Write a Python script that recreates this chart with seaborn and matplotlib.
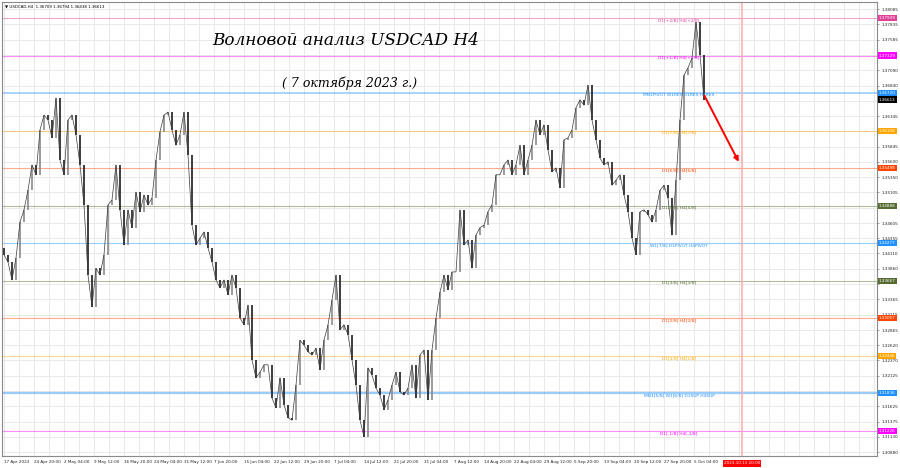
import matplotlib
matplotlib.use("Agg")
import matplotlib.pyplot as plt
from matplotlib.ticker import FixedLocator, MultipleLocator
from matplotlib.transforms import blended_transform_factory
import numpy as np
import pandas as pd
import seaborn as sns

# цены закрытия H4 (примерно каждая 4-я свеча)
closes = [
    1.3409, 1.3397, 1.3368, 1.3404, 1.3462, 1.3482, 1.3514, 1.3555, 1.3539, 1.3612,
    1.3636, 1.3628, 1.3599, 1.3664, 1.3563, 1.3539, 1.3628, 1.3636, 1.3604, 1.3555,
    1.3490, 1.3376, 1.3324, 1.3387, 1.3376, 1.3409, 1.3490, 1.3498, 1.3555, 1.3482,
    1.3425, 1.3482, 1.3453, 1.3511, 1.3479, 1.3506, 1.3490, 1.3501, 1.3563, 1.3609,
    1.3636, 1.3641, 1.3612, 1.3587, 1.3604, 1.3641, 1.3571, 1.3457, 1.3425, 1.3436,
    1.3446, 1.3420, 1.3397, 1.3368, 1.3355, 1.3368, 1.3344, 1.3376, 1.3355, 1.3306,
    1.3295, 1.3327, 1.3238, 1.3209, 1.3218, 1.3230, 1.3230, 1.3176, 1.3160, 1.3209,
    1.3165, 1.3144, 1.3140, 1.3197, 1.3270, 1.3262, 1.3251, 1.3246, 1.3257, 1.3222,
    1.3270, 1.3295, 1.3335, 1.3376, 1.3287, 1.3295, 1.3279, 1.3238, 1.3197, 1.3140,
    1.3113, 1.3225, 1.3213, 1.3192, 1.3181, 1.3157, 1.3173, 1.3197, 1.3218, 1.3186,
    1.3181, 1.3192, 1.3230, 1.3176, 1.3246, 1.3254, 1.3173, 1.3254, 1.3306, 1.3348,
    1.3376, 1.3352, 1.3381, 1.3381, 1.3482, 1.3425, 1.3433, 1.3387, 1.3441, 1.3453,
    1.3457, 1.3479, 1.3490, 1.3539, 1.3539, 1.3555, 1.3563, 1.3539, 1.3555, 1.3587,
    1.3539, 1.3563, 1.3587, 1.3628, 1.3604, 1.3620, 1.3579, 1.3544, 1.3550, 1.3518,
    1.3596, 1.3599, 1.3612, 1.3648, 1.3661, 1.3652, 1.3685, 1.3628, 1.3596, 1.3566,
    1.3555, 1.3560, 1.3522, 1.3530, 1.3539, 1.3506, 1.3479, 1.3436, 1.3409, 1.3479,
    1.3482, 1.3474, 1.3462, 1.3482, 1.3514, 1.3522, 1.3501, 1.3441, 1.3530, 1.3628,
    1.3701, 1.3713, 1.3729, 1.3787, 1.3734, 1.3661,
]
first_open = 1.3420

# уровни Мюррея / пивоты
level_prices = [1.37939, 1.37329, 1.36720, 1.36108, 1.35498, 1.34888,
                1.34277, 1.33667, 1.33057, 1.32446, 1.31836, 1.31226]
level_names = ["D1[+2/8] H4[+2/8]", "D1[+1/8] H4[+1/8]", "MN1PIVOT W1RES D1RES H4RES",
               "D1[7/8] H4[7/8]", "D1[6/8] H4[6/8]", "D1[5/8] H4[5/8]",
               "W1[7/8] D1PIVOT H4PIVOT", "D1[3/8] H4[3/8]", "D1[2/8] H4[2/8]",
               "D1[1/8] H4[1/8]", "MN1[5/8] W1[6/8] D1SUP H4SUP", "D1[-1/8] H4[-1/8]"]
level_colors = ["#e0409a", "#ff00ff", "#1e90ff", "#ffa500", "#ff4500", "#556b2f",
                "#1e90ff", "#556b2f", "#ff4500", "#ffa500", "#1e90ff", "#ff00ff"]
level_widths = [0.8, 0.8, 1.2, 0.8, 0.8, 0.8, 0.8, 0.8, 0.8, 0.8, 1.6, 0.8]

last_price = 1.36613
header = "USDCAD,H4  1.36709 1.36794 1.36438 1.36613"

y_ticks = [1.38085, 1.37835, 1.37585, 1.37335, 1.37090, 1.36840, 1.36595, 1.36345,
           1.36095, 1.35845, 1.35600, 1.35350, 1.35105, 1.34855, 1.34605, 1.34355,
           1.34110, 1.33860, 1.33615, 1.33365, 1.33115, 1.32865, 1.32620, 1.32370,
           1.32125, 1.31875, 1.31625, 1.31375, 1.31130, 1.30880]

time_labels = ["17 Apr 2023", "24 Apr 20:00", "2 May 04:00", "9 May 12:00", "16 May 20:00",
               "24 May 04:00", "31 May 12:00", "7 Jun 20:00", "15 Jun 04:00", "22 Jun 12:00",
               "29 Jun 20:00", "7 Jul 04:00", "14 Jul 12:00", "21 Jul 20:00", "31 Jul 04:00",
               "7 Aug 12:00", "14 Aug 20:00", "22 Aug 04:00", "29 Aug 12:00", "5 Sep 20:00",
               "13 Sep 04:00", "20 Sep 12:00", "27 Sep 20:00", "5 Oct 04:00"]
future_label = "2023.10.13 20:00"

sns.set_theme(style="white")
plt.rcParams['font.family'] = ['DejaVu Sans']

df = pd.DataFrame({"bar": np.arange(len(closes)), "close": closes})
df["open"] = [first_open] + closes[:-1]

fig = plt.figure(figsize=(9, 4.68), dpi=100)
ax = fig.add_axes([2 / 900, 12 / 468, 875 / 900, 454 / 468])

ax.set_xlim(-0.5, 218.25)
ax.set_ylim(1.30817, 1.38199)

# сетка
ax.yaxis.set_major_locator(FixedLocator(y_ticks))
tick_pos = np.arange(len(time_labels)) * 7.5
ax.xaxis.set_major_locator(FixedLocator(tick_pos))
ax.xaxis.set_minor_locator(MultipleLocator(3.75))
ax.grid(True, which="both", color="#e9e9e9", linewidth=0.7)
ax.set_axisbelow(True)

# уровни
trans = blended_transform_factory(ax.transAxes, ax.transData)
tag_prices = level_prices + [last_price]
for p, name, c, w in zip(level_prices, level_names, level_colors, level_widths):
    ax.axhline(p, color=c, linewidth=w, alpha=0.45, zorder=1)
    ax.text(168.75, p - 0.00035, name, color=c, fontsize=3.2, ha="center", va="center", zorder=4)
    ax.text(1.002, p, f"{p:.5f}", transform=trans, color="white", fontsize=3.0,
            ha="left", va="center", zorder=10, clip_on=False,
            bbox=dict(boxstyle="square,pad=0.25", fc=c, ec="none"))
ax.text(1.002, last_price, f"{last_price:.5f}", transform=trans, color="white", fontsize=3.0,
        ha="left", va="center", zorder=11, clip_on=False,
        bbox=dict(boxstyle="square,pad=0.25", fc="black", ec="none"))

# будущая дата
ax.axvline(184.5, color="#ffb0b0", linewidth=1.2, zorder=1)

# свечи
up = df["close"] >= df["open"]
lo = np.minimum(df["open"], df["close"])
hi = np.maximum(df["open"], df["close"])
ax.vlines(df["bar"][up], lo[up], hi[up], color="#8a8a8a", linewidth=1.2, zorder=3)
ax.vlines(df["bar"][~up], lo[~up], hi[~up], color="#1c1c1c", linewidth=1.2, zorder=3)
sns.lineplot(data=df, x="bar", y="close", ax=ax, color="#3a3a3a", linewidth=0.5, zorder=3)

# прогноз
ax.annotate("", xy=(184, 1.3556), xytext=(174.75, 1.3672),
            arrowprops=dict(arrowstyle="-|>", color="red", lw=1.4, mutation_scale=7), zorder=6)

# заголовок
ax.text(85.5, 1.3758, "Волновой анализ USDCAD H4", fontsize=12.2, style="italic",
        family="DejaVu Serif", ha="center", va="center", color="black")
ax.text(86.5, 1.3688, "( 7 октября 2023 г.)", fontsize=9, style="italic",
        family="DejaVu Serif", ha="center", va="center", color="black")

ax.text(0.003, 0.994, "▼ " + header, transform=ax.transAxes, fontsize=2.9,
        ha="left", va="top", color="black")

# оси
ax.yaxis.tick_right()
ylabels = [f"{t:.5f}" if min(abs(t - q) for q in tag_prices) > 0.00055 else "" for t in y_ticks]
ax.set_yticklabels(ylabels, fontsize=3.0, color="#222222")
ax.set_xticks(tick_pos)
ax.set_xticklabels(time_labels, fontsize=3.0, color="#222222", ha="left")
ax.tick_params(axis="both", length=1.5, width=0.5, pad=1.5, color="#777777")
ax.tick_params(axis="x", which="minor", length=0)
ax.text(184.5, -0.016, future_label, transform=blended_transform_factory(ax.transData, ax.transAxes),
        fontsize=3.0, color="white", ha="center", va="center", clip_on=False,
        bbox=dict(boxstyle="square,pad=0.3", fc="#ff0000", ec="none"))
ax.set_xlabel("")
ax.set_ylabel("")
for s in ax.spines.values():
    s.set_color("#8a8a8a")
    s.set_linewidth(0.8)

fig.savefig("out.png", dpi=100)
